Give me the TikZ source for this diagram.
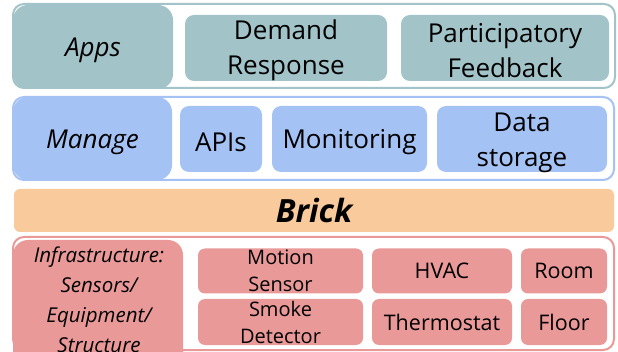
\documentclass[tikz,border=0pt]{standalone}
\usepackage{fontspec}
\setmainfont{Open Sans}
\definecolor{appsc}{HTML}{A2C4C9}
\definecolor{mgmtc}{HTML}{A4C2F4}
\definecolor{brickc}{HTML}{F9CB9C}
\definecolor{infrac}{HTML}{EA9999}
\tikzset{
  frame/.style={draw=#1, line width=2pt, fill=white, rounded corners=11pt},
  tile/.style={fill=#1, draw=none, rounded corners=9pt, inner sep=0pt,
    align=center, text=black},
  caption/.style={inner sep=0pt, align=center, text=black},
  bigtxt/.style={font=\fontsize{26}{35}\selectfont},
  bigit/.style={font=\itshape\fontsize{26}{35}\selectfont},
  smalltxt/.style={font=\fontsize{20}{27}\selectfont},
  onetxt/.style={font=\fontsize{21.5}{27}\selectfont},
}
\begin{document}
\begin{tikzpicture}[x=1pt, y=-1pt]
\useasboundingbox (0,0) rectangle (618,352);
\fill[white] (0,0) rectangle (618,352);

% ---- Apps layer ----
\draw[frame=appsc] (13,4) rectangle (615,88);
\node[tile=appsc, rounded corners=15pt, minimum width=160pt, minimum height=84pt] (apps) at (93,47) {};
\node[tile=appsc, minimum width=202pt, minimum height=66pt] (dr) at (286,48) {};
\node[tile=appsc, minimum width=208pt, minimum height=66pt] (pf) at (505,48) {};
\node[caption, bigit] (appst) at ([yshift=-3pt]apps.center) {Apps};
\node[caption, bigtxt] (drt) at ([yshift=-2.5pt]dr.center) {Demand\\Response};
\node[caption, bigtxt] (pft) at ([yshift=-2.5pt]pf.center) {Participatory\\Feedback};

% ---- Manage layer ----
\draw[frame=mgmtc] (13,97) rectangle (614,180);
\node[tile=mgmtc, rounded corners=15pt, minimum width=159pt, minimum height=83pt] (manage) at (92.5,138.5) {};
\node[tile=mgmtc, minimum width=82pt, minimum height=66pt] (apis) at (221,139) {};
\node[tile=mgmtc, minimum width=155pt, minimum height=66pt] (mon) at (349.5,139) {};
\node[tile=mgmtc, minimum width=170pt, minimum height=66pt] (store) at (522,139) {};
\node[caption, bigit] (managet) at ([yshift=-3.5pt]manage.center) {Manage};
\node[caption, bigtxt] (apist) at ([yshift=-3pt]apis.center) {APIs};
\node[caption, bigtxt] (mont) at ([yshift=-3.5pt]mon.center) {Monitoring};
\node[caption, bigtxt] (storet) at ([yshift=-3.5pt]store.center) {Data\\storage};

% ---- Brick band ----
\node[tile=brickc, rounded corners=6pt, minimum width=600pt, minimum height=43pt,
  font=\bfseries\itshape\fontsize{32}{38}\selectfont] (brick) at (314,210.5) {Brick};

% ---- Infrastructure layer ----
\draw[frame=infrac] (13,237) rectangle (614,350);
\node[tile=infrac, rounded corners=15pt, minimum width=170pt, minimum height=130pt]
  (infra) at (98,305) {};
\node[caption, font=\itshape\fontsize{20.5}{30}\selectfont]
  (infratxt) at (99,300) {Infrastructure:\\Sensors/\\Equipment/\\Structure};
\node[tile=infrac, rounded corners=7pt, smalltxt, minimum width=165pt, minimum height=45pt]
  (motion) at (280.5,271) {Motion\\Sensor};
\node[tile=infrac, rounded corners=7pt, smalltxt, minimum width=165pt, minimum height=46pt]
  (smoke) at (280.5,322) {Smoke\\Detector};
\node[tile=infrac, rounded corners=7pt, onetxt, minimum width=140pt, minimum height=45pt]
  (hvac) at (442,271) {HVAC};
\node[tile=infrac, rounded corners=7pt, onetxt, minimum width=140pt, minimum height=46pt]
  (thermo) at (442,322) {Thermostat};
\node[tile=infrac, rounded corners=7pt, onetxt, minimum width=86pt, minimum height=45pt]
  (room) at (564,271) {Room};
\node[tile=infrac, rounded corners=7pt, onetxt, minimum width=86pt, minimum height=46pt]
  (floor) at (564,322) {Floor};
\end{tikzpicture}
\end{document}
